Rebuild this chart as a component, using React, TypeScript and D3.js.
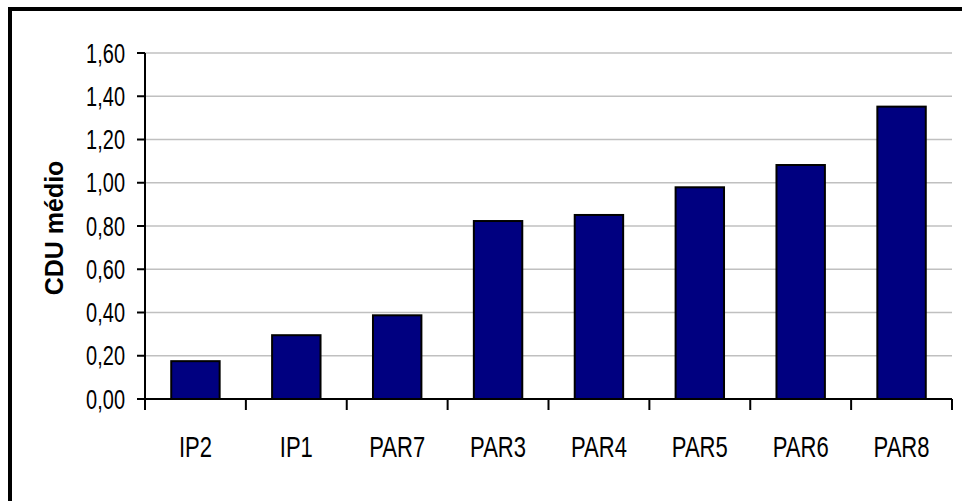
import React from "react";
import * as d3 from "d3";

const categories = ["IP2", "IP1", "PAR7", "PAR3", "PAR4", "PAR5", "PAR6", "PAR8"];
const values = [0.175, 0.295, 0.387, 0.823, 0.851, 0.979, 1.082, 1.352];
const yTicks = [0, 0.2, 0.4, 0.6, 0.8, 1.0, 1.2, 1.4, 1.6];
const yLabel = "CDU médio";

export default function App() {
  const W = 962, H = 501;
  const left = 145, right = 952, top = 53, bottom = 399;
  const x = d3.scaleBand<string>().domain(categories).range([left, right]).paddingInner(0.52).paddingOuter(0.26);
  const xb = d3.scaleBand<string>().domain(categories).range([left, right]);
  const y = d3.scaleLinear().domain([0, 1.6]).range([bottom, top]);
  const fmt = (v: number) => v.toFixed(2).replace(".", ",");
  const font = "'Liberation Sans', Arial, sans-serif";
  return (
    <div style={{ position: "absolute", left: 0, top: 0, width: W, height: H, background: "#fff" }}>
      <svg width={W} height={H} style={{ display: "block" }}>
        <rect x={0} y={0} width={W} height={H} fill="#fff" />
        <rect x={10} y={9} width={W + 20} height={H + 20} fill="none" stroke="#000" strokeWidth={4} />
        {yTicks.slice(1).map((t) => (
          <line key={"g" + t} x1={left} x2={right} y1={y(t)} y2={y(t)} stroke="#c0c0c0" strokeWidth={1.3} />
        ))}
        {values.map((v, i) => (
          <rect
            key={categories[i]}
            x={x(categories[i])!}
            y={y(v)}
            width={x.bandwidth()}
            height={bottom - y(v)}
            fill="#000080"
            stroke="#000"
            strokeWidth={2}
          />
        ))}
        <line x1={left} x2={left} y1={top} y2={bottom} stroke="#000" strokeWidth={2} />
        <line x1={left} x2={right} y1={bottom} y2={bottom} stroke="#000" strokeWidth={2} />
        {yTicks.map((t) => (
          <g key={"t" + t}>
            <line x1={left - 8} x2={left} y1={y(t)} y2={y(t)} stroke="#000" strokeWidth={2} />
            <text
              transform={`translate(125,${y(t) + 9.5}) scale(0.74,1)`}
              textAnchor="end"
              fontFamily={font}
              fontSize={27}
              fill="#000"
            >
              {fmt(t)}
            </text>
          </g>
        ))}
        {categories.map((c, i) => (
          <line key={"xt" + c} x1={xb(c)!} x2={xb(c)!} y1={bottom} y2={bottom + 11} stroke="#000" strokeWidth={2} />
        ))}
        <line x1={right} x2={right} y1={bottom} y2={bottom + 11} stroke="#000" strokeWidth={2} />
        {categories.map((c) => (
          <text
            key={"xl" + c}
            transform={`translate(${xb(c)! + xb.bandwidth() / 2},457) scale(0.76,1)`}
            textAnchor="middle"
            fontFamily={font}
            fontSize={29}
            fill="#000"
          >
            {c}
          </text>
        ))}
        <text
          transform="translate(63,228) rotate(-90)"
          textAnchor="middle"
          fontFamily={font}
          fontWeight="bold"
          fontSize={25}
          fill="#000"
        >
          {yLabel}
        </text>
      </svg>
    </div>
  );
}
